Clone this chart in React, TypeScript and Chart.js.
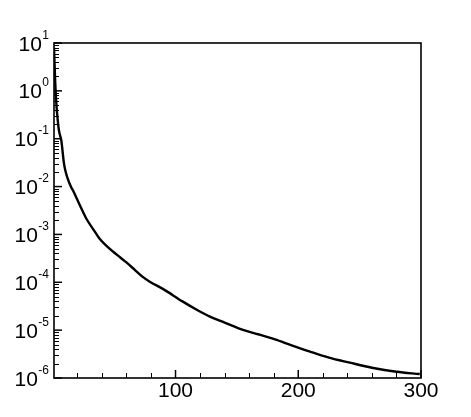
import React, { useEffect, useRef } from "react";
import { Chart, registerables } from "chart.js";

Chart.register(...registerables);

const iterations = [1, 2, 3, 4, 5, 7, 9, 10, 12, 15, 17, 20, 24, 28, 33, 38, 44, 49, 55, 60, 67, 73, 79, 90, 106, 118, 128, 140, 155, 168, 181, 193, 209, 225, 242, 260, 280, 299];
const residuals = [8, 1.5, 0.5, 0.25, 0.15, 0.09, 0.032, 0.023, 0.015, 0.0097, 0.0078, 0.0053, 0.0032, 0.002, 0.00128, 0.00082, 0.00057, 0.00044, 0.00033, 0.00026, 0.00018, 0.000131, 0.000103, 0.000072, 0.0000394, 0.000026, 0.0000191, 0.0000144, 0.0000101, 0.0000081, 0.0000064, 0.000005, 0.0000036, 0.00000266, 0.00000209, 0.00000164, 0.00000135, 0.00000121];
const xMajorTicks = [100, 200, 300];
const xMinorTicks = [20, 40, 60, 80, 120, 140, 160, 180, 220, 240, 260, 280];
const yExponents = [-6, -5, -4, -3, -2, -1, 0, 1];

const FONT = '"Liberation Sans", Arial, Helvetica, sans-serif';

const axesPlugin = {
  id: "tecplotAxes",
  afterDatasetsDraw(chart: any) {
    const ctx = chart.ctx as CanvasRenderingContext2D;
    const { left, right, top, bottom } = chart.chartArea;
    const xs = chart.scales.x;
    const ys = chart.scales.y;
    ctx.save();
    ctx.strokeStyle = "#000";
    ctx.fillStyle = "#000";

    // y minor ticks
    ctx.lineWidth = 1;
    for (const e of yExponents) {
      if (e >= 1) continue;
      for (let k = 2; k <= 9; k++) {
        const py = Math.round(ys.getPixelForValue(k * Math.pow(10, e))) + 0.5;
        ctx.beginPath();
        ctx.moveTo(left, py);
        ctx.lineTo(left + 5, py);
        ctx.stroke();
      }
    }
    // x minor ticks
    for (const v of xMinorTicks) {
      const px = Math.round(xs.getPixelForValue(v)) + 0.5;
      ctx.beginPath();
      ctx.moveTo(px, bottom);
      ctx.lineTo(px, bottom - 5);
      ctx.stroke();
    }
    // major ticks
    ctx.lineWidth = 1.5;
    for (const e of yExponents) {
      const py = ys.getPixelForValue(Math.pow(10, e));
      ctx.beginPath();
      ctx.moveTo(left, py);
      ctx.lineTo(left + 8, py);
      ctx.stroke();
    }
    for (const v of xMajorTicks) {
      const px = xs.getPixelForValue(v);
      ctx.beginPath();
      ctx.moveTo(px, bottom);
      ctx.lineTo(px, bottom - 8);
      ctx.stroke();
    }
    // frame
    ctx.lineWidth = 1.6;
    ctx.strokeRect(left, top, right - left, bottom - top);

    // y labels
    for (const e of yExponents) {
      const py = ys.getPixelForValue(Math.pow(10, e));
      const sup = String(e);
      ctx.font = "12px " + FONT;
      const supW = ctx.measureText(sup).width;
      const rightEdge = left - 5;
      ctx.textAlign = "left";
      ctx.textBaseline = "alphabetic";
      ctx.fillText(sup, rightEdge - supW, py - 4.5);
      ctx.font = "21px " + FONT;
      ctx.textAlign = "right";
      ctx.fillText("10", rightEdge - supW - 0.5, py + 7.5);
    }
    // x labels
    ctx.font = "21px " + FONT;
    ctx.textAlign = "center";
    ctx.textBaseline = "alphabetic";
    for (const v of xMajorTicks) {
      const px = xs.getPixelForValue(v);
      ctx.fillText(String(v), px, bottom + 19);
    }
    ctx.restore();
  },
};

export default function App() {
  const canvasRef = useRef<HTMLCanvasElement | null>(null);
  useEffect(() => {
    const canvas = canvasRef.current;
    if (!canvas) return;
    const chart = new Chart(canvas, {
      type: "line",
      data: {
        datasets: [
          {
            data: iterations.map((x, i) => ({ x, y: residuals[i] })),
            borderColor: "#000",
            borderWidth: 2.4,
            pointRadius: 0,
            cubicInterpolationMode: "monotone",
            fill: false,
          },
        ],
      },
      options: {
        animation: false,
        responsive: false,
        maintainAspectRatio: false,
        layout: { padding: { left: 54, top: 43, right: 50, bottom: 39 } },
        plugins: { legend: { display: false }, tooltip: { enabled: false } },
        scales: {
          x: { type: "linear", min: 1, max: 300, display: false },
          y: { type: "logarithmic", min: 1e-6, max: 10, display: false },
        },
      },
      plugins: [axesPlugin],
    });
    return () => chart.destroy();
  }, []);
  return (
    <div style={{ position: "fixed", left: 0, top: 0, width: 471, height: 417, background: "#fff" }}>
      <canvas ref={canvasRef} width={471} height={417} style={{ width: 471, height: 417 }} />
    </div>
  );
}
